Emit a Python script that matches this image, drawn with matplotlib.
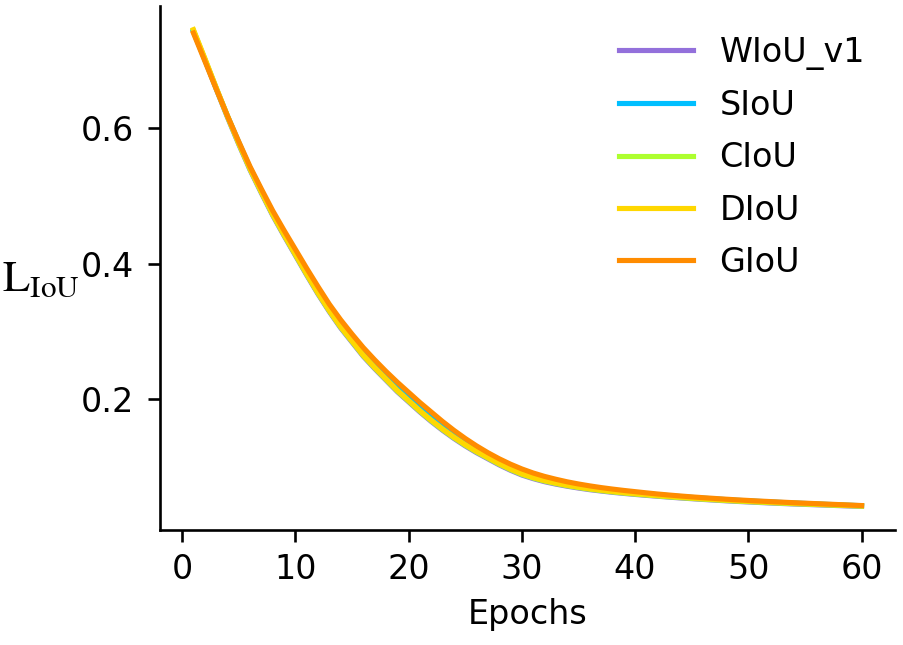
import numpy as np
import matplotlib
matplotlib.use('Agg')
import matplotlib.pyplot as plt

# datos (perdida IoU por epoca)
epochs = list(range(1, 61))

giou = [0.740, 0.699, 0.658, 0.618, 0.580, 0.543, 0.510, 0.478, 0.449, 0.421,
        0.393, 0.366, 0.340, 0.317, 0.296, 0.276, 0.258, 0.241, 0.225,
        0.210, 0.195, 0.181, 0.167, 0.154, 0.142, 0.131, 0.121, 0.112, 0.104,
        0.097, 0.091, 0.0860, 0.0818, 0.0780, 0.0748, 0.0720, 0.0695, 0.0673, 0.0653,
        0.0635, 0.0617, 0.0600, 0.0585, 0.0571, 0.0558, 0.0546, 0.0535, 0.0524, 0.0514,
        0.0505, 0.0496, 0.0488, 0.0480, 0.0472, 0.0465, 0.0458, 0.0451, 0.0444, 0.0437,
        0.0430]

diou = [0.745, 0.703, 0.660, 0.618, 0.578, 0.540, 0.506, 0.473, 0.443, 0.414,
        0.385, 0.357, 0.331, 0.307, 0.286, 0.265, 0.247, 0.230, 0.213,
        0.198, 0.183, 0.169, 0.156, 0.144, 0.133, 0.123, 0.114, 0.105, 0.097,
        0.090, 0.0845, 0.0800, 0.0763, 0.0731, 0.0703, 0.0679, 0.0658, 0.0639, 0.0622,
        0.0607, 0.0593, 0.0579, 0.0566, 0.0554, 0.0542, 0.0531, 0.0521, 0.0511, 0.0502,
        0.0494, 0.0486, 0.0478, 0.0471, 0.0464, 0.0457, 0.0451, 0.0444, 0.0438, 0.0432,
        0.0426]

siou = [0.742, 0.701, 0.659, 0.618, 0.579, 0.541, 0.508, 0.475, 0.446, 0.417,
        0.389, 0.361, 0.335, 0.312, 0.291, 0.270, 0.252, 0.235, 0.219,
        0.204, 0.189, 0.175, 0.1615, 0.149, 0.1375, 0.127, 0.1175, 0.1085, 0.1005,
        0.0935, 0.0878, 0.0830, 0.0790, 0.0755, 0.0725, 0.0700, 0.0677, 0.0656, 0.0638,
        0.0621, 0.0605, 0.0590, 0.0576, 0.0563, 0.0550, 0.0539, 0.0528, 0.0518, 0.0508,
        0.0499, 0.0491, 0.0483, 0.0475, 0.0468, 0.0461, 0.0454, 0.0447, 0.0441, 0.0434,
        0.0428]

ciou = [0.744, 0.702, 0.659, 0.617, 0.577, 0.539, 0.505, 0.472, 0.442, 0.413,
        0.384, 0.356, 0.330, 0.306, 0.285, 0.264, 0.246, 0.229, 0.212,
        0.197, 0.182, 0.168, 0.155, 0.143, 0.132, 0.122, 0.113, 0.104, 0.096,
        0.089, 0.0836, 0.0791, 0.0755, 0.0723, 0.0695, 0.0671, 0.0650, 0.0631, 0.0614,
        0.0599, 0.0585, 0.0571, 0.0558, 0.0546, 0.0535, 0.0524, 0.0514, 0.0504, 0.0495,
        0.0487, 0.0479, 0.0471, 0.0464, 0.0457, 0.0451, 0.0445, 0.0439, 0.0433, 0.0427,
        0.0421]

wiou = [0.743, 0.701, 0.658, 0.616, 0.576, 0.538, 0.504, 0.471, 0.441, 0.412,
        0.383, 0.355, 0.329, 0.305, 0.284, 0.263, 0.245, 0.228, 0.211,
        0.196, 0.181, 0.167, 0.154, 0.142, 0.131, 0.121, 0.112, 0.103, 0.095,
        0.088, 0.0827, 0.0782, 0.0746, 0.0715, 0.0688, 0.0664, 0.0644, 0.0625, 0.0609,
        0.0594, 0.0580, 0.0567, 0.0554, 0.0542, 0.0531, 0.0520, 0.0510, 0.0500, 0.0491,
        0.0483, 0.0475, 0.0467, 0.0460, 0.0453, 0.0447, 0.0441, 0.0435, 0.0429, 0.0423,
        0.0418]

nombres = ['WIoU_v1', 'SIoU', 'CIoU', 'DIoU', 'GIoU']
series = [wiou, siou, ciou, diou, giou]
colores = ['#9370DB', '#00BFFF', '#ADFF2F', '#FFD700', '#FF8C00']

plt.rcParams['mathtext.fontset'] = 'stix'

fig = plt.figure(figsize=(9.04, 6.45), dpi=100)
ax = fig.add_axes([0.177, 0.178, 0.813, 0.813])

for nombre, valores, color in zip(nombres, series, colores):
    ax.plot(epochs, valores, color=color, linewidth=3.7, label=nombre)

ax.spines['top'].set_visible(False)
ax.spines['right'].set_visible(False)
for s in ['left', 'bottom']:
    ax.spines[s].set_linewidth(1.9)

ax.set_yticks([0.2, 0.4, 0.6])
ax.set_xticks([0, 10, 20, 30, 40, 50, 60])
ax.tick_params(axis='both', length=8.4, width=1.9, labelsize=24)
ax.tick_params(axis='x', pad=8)
ax.tick_params(axis='y', pad=10)

ax.set_xlabel('Epochs', fontsize=24, labelpad=9)
ax.set_ylabel(r'$\mathrm{L}_{\mathrm{IoU}}$', fontsize=32, rotation=0,
              ha='right', va='center')
ax.yaxis.set_label_coords(-0.109, 0.48)

ax.legend(loc='upper right', bbox_to_anchor=(1.0, 1.0), frameon=False,
          fontsize=24, handlelength=2.2, labelspacing=0.58, handletextpad=0.8)

fig.savefig('out.png', dpi=100)
